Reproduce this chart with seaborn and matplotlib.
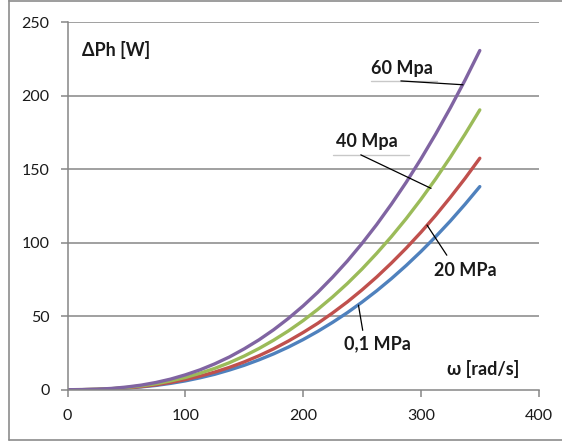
import matplotlib
matplotlib.use("Agg")
import matplotlib.pyplot as plt
from matplotlib.lines import Line2D
import seaborn as sns
import pandas as pd


omega = [0, 12.5, 25, 37.5, 50, 62.5, 75, 87.5, 100, 112.5, 125, 137.5, 150, 162.5,
         175, 187.5, 200, 212.5, 225, 237.5, 250, 262.5, 275, 287.5, 300, 312.5,
         325, 337.5, 350]

p_01 = [0, 0.03, 0.19, 0.52, 1.1, 1.9, 2.9, 4.3, 6.0, 8.1, 10.5, 13.4, 16.6, 20.3,
        24.4, 29.0, 34.1, 39.7, 45.8, 52.4, 59.6, 67.3, 75.6, 84.5, 94.0, 104.1,
        114.8, 126.2, 138.2]
p_20 = [0, 0.04, 0.22, 0.59, 1.2, 2.1, 3.3, 4.9, 6.9, 9.2, 12.0, 15.2, 18.9, 23.1,
        27.8, 33.1, 38.9, 45.2, 52.2, 59.7, 67.9, 76.7, 86.2, 96.3, 107.1, 118.6,
        130.9, 143.8, 157.5]
p_40 = [0, 0.05, 0.26, 0.72, 1.5, 2.6, 4.0, 6.0, 8.3, 11.2, 14.5, 18.4, 22.9, 28.0,
        33.7, 40.0, 47.0, 54.7, 63.1, 72.2, 82.1, 92.8, 104.2, 116.4, 129.5, 143.4,
        158.2, 173.9, 190.4]
p_60 = [0, 0.06, 0.32, 0.87, 1.8, 3.1, 4.9, 7.2, 10.1, 13.5, 17.6, 22.3, 27.8, 33.9,
        40.8, 48.5, 57.0, 66.3, 76.5, 87.5, 99.5, 112.4, 126.3, 141.1, 157.0, 173.9,
        191.8, 210.7, 230.8]

series_names = ["0,1 MPa", "20 MPa", "40 Mpa", "60 Mpa"]
colors = ["#4F81BD", "#C0504D", "#9BBB59", "#8064A2"]


df = pd.concat([
    pd.DataFrame({"omega": omega, "dPh": vals, "serie": name})
    for name, vals in zip(series_names, [p_01, p_20, p_40, p_60])
])

sns.set_style("white")
plt.rcParams["font.family"] = ["Lato", "DejaVu Sans"]

fig = plt.figure(figsize=(5.62, 4.43), dpi=100)
ax = fig.add_axes([67.5 / 562, 53.3 / 443, 471.2 / 562, 367.4 / 443])

sns.lineplot(data=df, x="omega", y="dPh", hue="serie", hue_order=series_names,
             palette=colors, linewidth=2.4, legend=False, ax=ax)

ax.set_xlim(0, 400)
ax.set_ylim(0, 250)
ax.set_xticks([0, 100, 200, 300, 400])
ax.set_yticks([0, 50, 100, 150, 200, 250])
ax.set_xlabel("")
ax.set_ylabel("")

gray = "#868686"
for y in [50, 100, 150, 200, 250]:
    ax.axhline(y, color=gray, lw=1.1, zorder=0)

for s in ["top", "right"]:
    ax.spines[s].set_visible(False)
for s in ["left", "bottom"]:
    ax.spines[s].set_color(gray)
    ax.spines[s].set_linewidth(1.1)

ax.tick_params(axis="both", direction="out", length=5, width=1.1, color=gray,
               labelsize=11.5, labelcolor="#1a1a1a")
ax.tick_params(axis="y", pad=8, left=True)
ax.tick_params(axis="x", pad=9, bottom=True)

txt = dict(fontsize=13, fontweight="bold", color="#1a1a1a")
ax.text(12, 231, "ΔPh [W]", ha="left", va="center", **txt)
ax.text(322, 14.3, "ω [rad/s]", ha="left", va="center", **txt)

# etiquetas das curvas
ax.text(257.6, 218.8, "60 Mpa", ha="left", va="center", **txt)
ax.plot([257.6, 313.7], [210.1, 210.1], color="#c8c8c8", lw=1)
ax.plot([283, 335.7], [210.1, 207.5], color="black", lw=0.9)

ax.text(228, 168.8, "40 Mpa", ha="left", va="center", **txt)
ax.plot([225, 290], [159.8, 159.8], color="#c8c8c8", lw=1)
ax.plot([249, 308.6], [159.8, 137], color="black", lw=0.9)

ax.text(311.4, 81.3, "20 MPa", ha="left", va="center", **txt)
ax.plot([322, 305.2], [91.5, 112], color="black", lw=0.9)

ax.text(235, 31.3, "0,1 MPa", ha="left", va="center", **txt)
ax.plot([250.6, 247], [40.4, 57.5], color="black", lw=0.9)

# moldura do grafico
frame = "#8c8c8c"
fig.add_artist(Line2D([8.5 / 562, 8.5 / 562], [3 / 443, 1], color=frame, lw=1.2))
fig.add_artist(Line2D([8.5 / 562, 1], [442.5 / 443, 442.5 / 443], color=frame, lw=1.2))
fig.add_artist(Line2D([8.5 / 562, 1], [3 / 443, 3 / 443], color=frame, lw=1.2))

fig.savefig("out.png", dpi=100)
